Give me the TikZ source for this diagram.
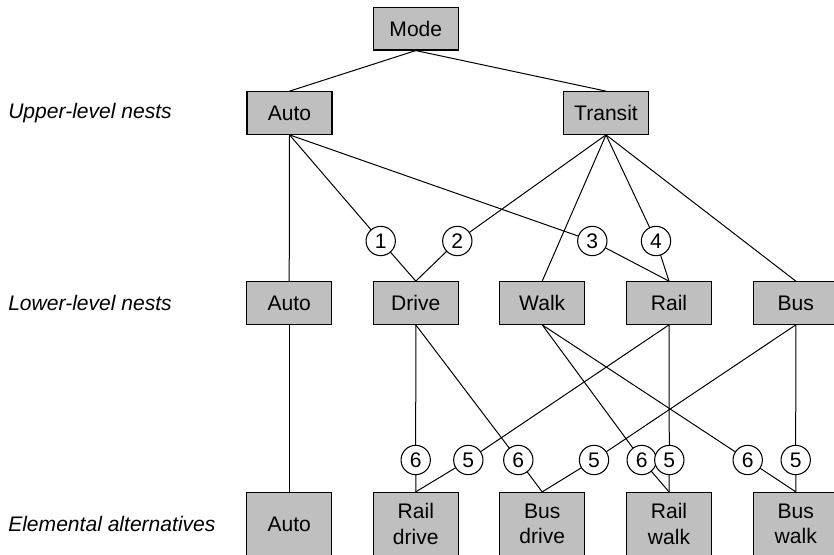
\documentclass[tikz,border=0pt]{standalone}
\usepackage{fontspec}
\setmainfont{Liberation Sans}
\usetikzlibrary{backgrounds}
\definecolor{boxgray}{RGB}{191,191,191}
\begin{document}
\begin{tikzpicture}[x=0.75pt,y=-0.75pt,
  font=\fontsize{15.8pt}{19.2pt}\selectfont,
  nestbox/.style={draw=black,line width=0.9pt,fill=boxgray,rectangle,
    inner sep=0pt,minimum width=63.75pt,minimum height=31.9pt},
  altbox/.style={nestbox,minimum height=47.3pt,align=center},
  param/.style={draw=black,line width=0.8pt,fill=white,circle,
    inner sep=0pt,minimum size=22pt},
  link/.style={draw=black,line width=0.75pt},
  levellabel/.style={anchor=west,inner sep=0pt,font=\fontsize{15.8pt}{19.2pt}\selectfont\itshape}]
\useasboundingbox (0,0) rectangle (834,555);

% level captions
\node[levellabel] (lu) at (8,113) {Upper-level nests};
\node[levellabel] (ll) at (8,303) {Lower-level nests};
\node[levellabel] (le) at (8,524) {Elemental alternatives};

% root and upper-level nests
\node[nestbox] (mode)    at (415.8,28.7) {Mode};
\node[nestbox] (uauto)   at (289.5,113)  {Auto};
\node[nestbox] (transit) at (606,113)    {Transit};

% lower-level nests
\node[nestbox] (lauto) at (289.2,303) {Auto};
\node[nestbox] (drive) at (415.8,303) {Drive};
\node[nestbox] (walk)  at (542.2,303) {Walk};
\node[nestbox] (rail)  at (669,303)   {Rail};
\node[nestbox] (bus)   at (795.8,303) {Bus};

% elemental alternatives
\node[altbox] (eauto)     at (289.2,524) {Auto};
\node[altbox] (raildrive) at (415.8,524) {Rail\\drive};
\node[altbox] (busdrive)  at (542.2,524) {Bus\\drive};
\node[altbox] (railwalk)  at (669,524)   {Rail\\walk};
\node[altbox] (buswalk)   at (795.8,524) {Bus\\walk};

% parameters between upper and lower nests
\node[param] (p1) at (380.7,241) {1};
\node[param] (p2) at (457.3,241) {2};
\node[param] (p3) at (592.3,241) {3};
\node[param] (p4) at (656,241)   {4};

% parameters between lower nests and alternatives
\node[param] (s6a) at (415.7,460) {6};
\node[param] (s6b) at (518.3,460) {6};
\node[param] (s6c) at (641.7,460) {6};
\node[param] (s6d) at (747.7,460) {6};
\node[param] (s5a) at (468.3,460) {5};
\node[param] (s5b) at (594,460)   {5};
\node[param] (s5c) at (669.3,460) {5};
\node[param] (s5d) at (795.7,460) {5};

\begin{scope}[on background layer]
  % root to upper nests
  \draw[link] (mode.south) -- (uauto.north);
  \draw[link] (mode.south) -- (transit.north);
  % upper to lower nests
  \draw[link] (uauto.south) -- (lauto.north);
  \draw[link] (uauto.south) -- (p1.center) -- (drive.north);
  \draw[link] (uauto.south) -- (p3.center) -- (rail.north);
  \draw[link] (transit.south) -- (p2.center) -- (drive.north);
  \draw[link] (transit.south) -- (walk.north);
  \draw[link] (transit.south) -- (p4.center) -- (rail.north);
  \draw[link] (transit.south) -- (bus.north);
  % lower nests to alternatives
  \draw[link] (lauto.south) -- (eauto.north);
  \draw[link] (drive.south) -- (s6a.center) -- (raildrive.north);
  \draw[link] (drive.south) -- (s6b.center) -- (busdrive.north);
  \draw[link] (walk.south) -- (s6c.center) -- (railwalk.north);
  \draw[link] (walk.south) -- (s6d.center) -- (buswalk.north);
  \draw[link] (rail.south) -- (s5a.center) -- (raildrive.north);
  \draw[link] (rail.south) -- (s5c.center) -- (railwalk.north);
  \draw[link] (bus.south) -- (s5b.center) -- (busdrive.north);
  \draw[link] (bus.south) -- (s5d.center) -- (buswalk.north);
\end{scope}
\end{tikzpicture}
\end{document}
